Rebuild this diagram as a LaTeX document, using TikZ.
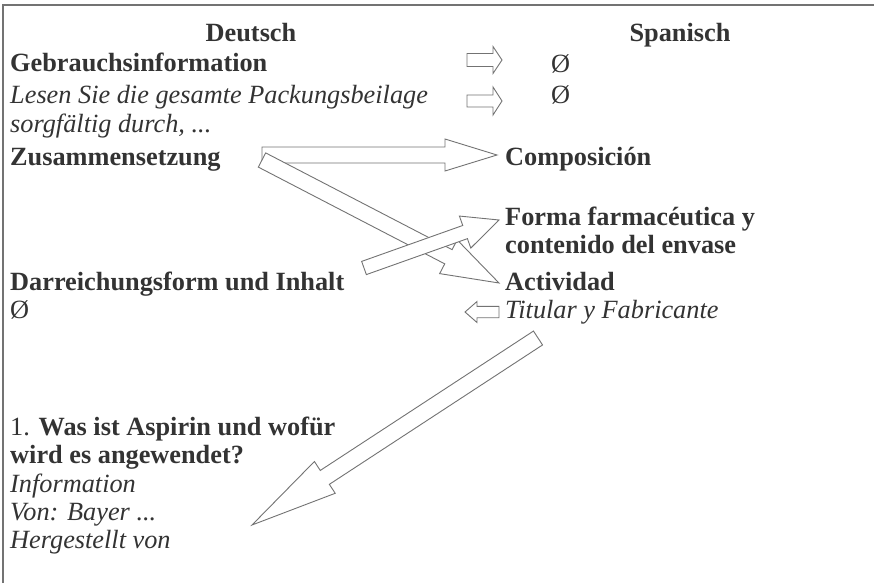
\documentclass[tikz,border=0pt]{standalone}
\usepackage{fontspec}
\setmainfont{Liberation Serif}
\usetikzlibrary{calc}
\newcommand\blockarr[5]{% tail, tip, body half width, head half width, head length
  \coordinate (hb) at ($(#2)!#5!(#1)$);
  \draw[barrow] ($(#1)!#3!90:(#2)$) -- ($(hb)!#3!90:(#2)$) -- ($(hb)!#4!90:(#2)$) -- (#2)
    -- ($(hb)!#4!-90:(#2)$) -- ($(hb)!#3!-90:(#2)$) -- ($(#1)!#3!-90:(#2)$) -- cycle;
}
\begin{document}
\begin{tikzpicture}[x=1pt,y=-1pt,
  txt/.style={inner sep=0pt,anchor=base west,text=black!80,font=\fontsize{26.3}{30}\selectfont},
  bt/.style={txt,font=\fontsize{26.3}{30}\selectfont\bfseries},
  it/.style={txt,font=\fontsize{26.3}{30}\selectfont\itshape},
  barrow/.style={draw=black!55,line width=0.9pt,fill=white,line join=miter},
  frame/.style={draw=black!55,line width=1.4pt}]
\useasboundingbox (0,0) rectangle (874,583);
\draw[frame] (3,583) -- (3,5) -- (874,5);
% headers
\node[bt,anchor=base] (hde) at (251,42) {Deutsch};
\node[bt,anchor=base] (hes) at (680,42) {Spanisch};
% left column
\node[bt] (geb) at (10,72) {Gebrauchsinformation};
\node[it] (les) at (10,103) {Lesen Sie die gesamte Packungsbeilage};
\node[it] (sor) at (10,132) {sorgfältig durch, ...};
\node[bt] (zus) at (10,165) {Zusammensetzung};
\node[bt] (dar) at (10,290) {Darreichungsform und Inhalt};
\node[txt] (null3) at (10,318) {Ø};
\node[txt] (was) at (10,435) {1. \textbf{Was ist Aspirin und wofür}};
\node[bt] (wir) at (10,463) {wird es angewendet?};
\node[it] (inf) at (10,492) {Information};
\node[it] (von) at (10,520) {Von: Bayer ...};
\node[it] (her) at (10,548) {Hergestellt von};
% right column
\node[txt] (null1) at (551,73) {Ø};
\node[txt] (null2) at (551,103) {Ø};
\node[bt] (com) at (505,165) {Composición};
\node[bt] (for) at (505,225) {Forma farmacéutica y};
\node[bt] (con) at (505,253) {contenido del envase};
\node[bt] (act) at (505,290) {Actividad};
\node[it] (tit) at (505,318) {Titular y Fabricante};
% small arrows
\coordinate (s1t) at (467,60);  \coordinate (s1h) at (502,60);
\coordinate (s2t) at (467,101); \coordinate (s2h) at (502,101);
\coordinate (s3t) at (499,312); \coordinate (s3h) at (465,312);
\blockarr{s1t}{s1h}{6.5pt}{13.5pt}{9pt}
\blockarr{s2t}{s2h}{6pt}{14pt}{9pt}
\blockarr{s3t}{s3h}{5.7pt}{10.5pt}{12pt}
% big arrows
\coordinate (zt) at (262,155); \coordinate (zh) at (497,155);
\blockarr{zt}{zh}{8pt}{16pt}{52pt}
\coordinate (dt) at (262,160); \coordinate (dh) at (499,283);
\blockarr{dt}{dh}{8pt}{19pt}{57pt}
\coordinate (ft) at (364,268); \coordinate (fh) at (499,220);
\blockarr{ft}{fh}{7pt}{17pt}{36pt}
\coordinate (tt) at (538,338); \coordinate (th) at (252,525);
\blockarr{tt}{th}{8.3pt}{19pt}{87pt}
\end{tikzpicture}
\end{document}
